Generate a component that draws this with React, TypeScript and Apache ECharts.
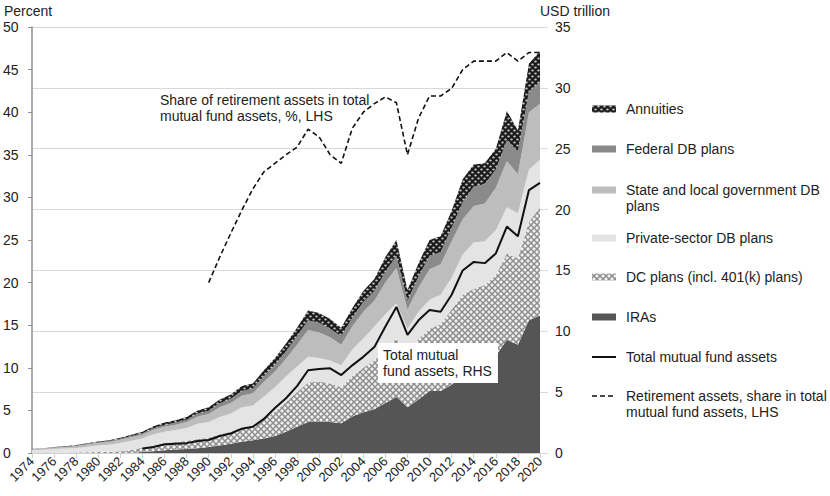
import React, { useEffect, useRef } from 'react';
import * as echarts from 'echarts';

const years = ['1974','1975','1976','1977','1978','1979','1980','1981','1982','1983','1984','1985','1986','1987','1988','1989','1990','1991','1992','1993','1994','1995','1996','1997','1998','1999','2000','2001','2002','2003','2004','2005','2006','2007','2008','2009','2010','2011','2012','2013','2014','2015','2016','2017','2018','2019','2020'];

// USD trillion (RHS), stacked from bottom
const iras = [0,0,0,0,0,0,0,0,0,0, 0.08,0.15,0.22,0.28,0.33,0.40,0.50,0.62,0.75,0.92,1.05,1.20,1.40,1.75,2.15,2.55,2.55,2.55,2.45,3.00,3.35,3.60,4.10,4.60,3.75,4.40,5.10,5.10,5.60,6.40,6.90,7.50,8.00,9.30,8.90,10.90,11.30];
const dcPlans = [0,0,0.01,0.02,0.04,0.06,0.08,0.10,0.15,0.25, 0.37,0.45,0.58,0.62,0.67,0.75,0.75,0.93,1.00,1.18,1.20,1.60,2.00,2.45,2.85,3.25,3.35,3.15,2.95,3.30,3.65,4.00,4.50,4.80,4.25,5.00,5.10,5.50,6.20,6.60,6.60,6.30,6.60,7.10,7.10,8.10,8.90];
const privateDB = [0.22,0.26,0.31,0.34,0.38,0.46,0.54,0.58,0.67,0.75, 0.75,0.95,0.95,0.98,1.05,1.25,1.30,1.40,1.50,1.65,1.65,1.85,2.00,2.10,2.10,2.10,1.90,1.90,1.80,2.20,2.40,2.80,2.80,2.90,2.20,2.20,2.40,2.40,2.60,3.30,3.80,3.60,3.70,3.80,3.70,4.30,3.90];
const stateDB = [0.08,0.09,0.11,0.12,0.14,0.17,0.20,0.22,0.26,0.30, 0.30,0.35,0.40,0.44,0.50,0.60,0.65,0.80,0.85,0.95,1.00,1.20,1.30,1.45,1.80,2.20,2.10,1.90,1.70,1.90,2.20,2.10,2.60,2.90,1.60,2.00,2.50,2.50,3.00,2.90,3.00,3.10,3.50,3.80,3.20,4.70,4.60];
const federalDB = [0.03,0.03,0.04,0.04,0.05,0.06,0.07,0.08,0.09,0.10, 0.12,0.14,0.16,0.18,0.19,0.25,0.28,0.33,0.35,0.40,0.40,0.45,0.55,0.60,0.70,0.80,0.80,0.70,0.70,0.70,0.80,0.80,0.90,1.00,0.70,0.90,1.10,1.00,1.10,1.40,1.60,1.60,1.50,1.70,1.90,1.70,1.80];
const annuities = [0.02,0.02,0.03,0.03,0.04,0.05,0.06,0.07,0.08,0.10, 0.13,0.16,0.19,0.20,0.21,0.25,0.27,0.32,0.35,0.40,0.40,0.50,0.55,0.65,0.70,0.80,0.80,0.80,0.70,0.80,0.90,1.00,1.20,1.30,0.90,1.10,1.30,1.30,1.40,1.90,1.80,1.70,1.70,2.40,1.70,2.30,2.50];
const mutualFund = [null,null,null,null,null,null,null,null,null,null, 0.37,0.50,0.72,0.77,0.81,0.98,1.07,1.40,1.60,2.00,2.16,2.80,3.70,4.50,5.50,6.80,6.90,6.96,6.40,7.20,7.90,8.70,10.40,12.00,9.70,10.90,11.75,11.60,13.00,15.00,15.70,15.60,16.40,18.60,17.80,21.60,22.20];
// Percent (LHS)
const shareRetirement = [null,null,null,null,null,null,null,null,null,null,null,null,null,null,null,null, 20.0,23.0,25.8,28.5,31.0,33.0,34.0,35.0,35.9,38.0,37.1,35.0,34.0,38.1,40.0,41.0,41.8,41.1,35.0,39.3,41.9,41.9,42.8,45.0,46.0,46.0,46.0,47.0,46.0,47.0,47.0];

const FONT = '"Liberation Sans", Arial, Helvetica, sans-serif';
const TXT = '#222';

function makeAnnuityPattern() {
  const c = document.createElement('canvas');
  c.width = 6; c.height = 6;
  const ctx = c.getContext('2d')!;
  ctx.fillStyle = '#1c1c1c';
  ctx.fillRect(0, 0, 6, 6);
  ctx.fillStyle = '#c4c4c4';
  ctx.beginPath(); ctx.ellipse(1.5, 1.5, 1.3, 1.0, 0, 0, Math.PI * 2); ctx.fill();
  ctx.beginPath(); ctx.ellipse(4.5, 4.5, 1.3, 1.0, 0, 0, Math.PI * 2); ctx.fill();
  return c;
}

function makeDcPattern() {
  const c = document.createElement('canvas');
  c.width = 6; c.height = 6;
  const ctx = c.getContext('2d')!;
  ctx.fillStyle = '#f0f0f0';
  ctx.fillRect(0, 0, 6, 6);
  ctx.strokeStyle = '#8e8e8e';
  ctx.lineWidth = 1.5;
  ctx.beginPath();
  ctx.moveTo(0, 0); ctx.lineTo(6, 6);
  ctx.moveTo(6, 0); ctx.lineTo(0, 6);
  ctx.stroke();
  return c;
}

export default function App() {
  const ref = useRef<HTMLDivElement>(null);

  useEffect(() => {
    if (!ref.current) return;
    const chart = echarts.init(ref.current, undefined, { renderer: 'svg' });
    const annPat = { image: makeAnnuityPattern(), repeat: 'repeat' };
    const dcPat = { image: makeDcPattern(), repeat: 'repeat' };

    const area = (name: string, data: number[], fill: any) => ({
      name,
      type: 'line',
      yAxisIndex: 1,
      stack: 'retirement',
      data,
      symbol: 'none',
      lineStyle: { width: 0 },
      areaStyle: { color: fill, opacity: 1 },
      z: 2,
      silent: true,
    });

    const legendItems: any[] = [];
    const lx = 592, tx = 626;
    const addSwatch = (y: number, fill: any, label: string) => {
      legendItems.push({ type: 'rect', shape: { x: lx, y: y - 3.5, width: 24, height: 7 }, style: { fill } });
      legendItems.push({ type: 'text', x: tx, y: y - 8, style: { text: label, font: `14px ${FONT}`, fill: TXT, lineHeight: 16, verticalAlign: 'top' } });
    };
    addSwatch(109, annPat, 'Annuities');
    addSwatch(149, '#8a8a8a', 'Federal DB plans');
    addSwatch(190, '#bdbdbd', 'State and local government DB\nplans');
    addSwatch(238, '#e4e4e4', 'Private-sector DB plans');
    addSwatch(277, dcPat, 'DC plans (incl. 401(k) plans)');
    addSwatch(317, '#555555', 'IRAs');
    legendItems.push({ type: 'line', shape: { x1: lx, y1: 357, x2: lx + 24, y2: 357 }, style: { stroke: '#111', lineWidth: 2 } });
    legendItems.push({ type: 'text', x: tx, y: 349, style: { text: 'Total mutual fund assets', font: `14px ${FONT}`, fill: TXT, lineHeight: 16, verticalAlign: 'top' } });
    legendItems.push({ type: 'line', shape: { x1: lx, y1: 396, x2: lx + 24, y2: 396 }, style: { stroke: '#111', lineWidth: 1.6, lineDash: [5, 3] } });
    legendItems.push({ type: 'text', x: tx, y: 388, style: { text: 'Retirement assets, share in total\nmutual fund assets, LHS', font: `14px ${FONT}`, fill: TXT, lineHeight: 16, verticalAlign: 'top' } });

    chart.setOption({
      animation: false,
      backgroundColor: '#ffffff',
      textStyle: { fontFamily: FONT, color: TXT },
      grid: { left: 32, right: 290, top: 27, bottom: 43, containLabel: false },
      xAxis: {
        type: 'category',
        data: years,
        boundaryGap: false,
        axisLine: { show: true, lineStyle: { color: '#cfcfcf', width: 1 } },
        axisTick: { show: true, interval: 1, length: 5, lineStyle: { color: '#cfcfcf' } },
        axisLabel: { interval: 1, rotate: 45, fontSize: 13, color: TXT, margin: 6, fontFamily: FONT },
        splitLine: { show: false },
      },
      yAxis: [
        {
          type: 'value',
          min: 0, max: 50, interval: 5,
          position: 'left',
          axisLine: { show: true, lineStyle: { color: '#8f8f8f', width: 1.5 } },
          axisTick: { show: true, length: 4, lineStyle: { color: '#8f8f8f' } },
          axisLabel: { color: TXT, fontSize: 14, align: 'left', margin: 29, fontFamily: FONT },
          splitLine: { show: false },
        },
        {
          type: 'value',
          min: 0, max: 35, interval: 5,
          position: 'right',
          axisLine: { show: false },
          axisTick: { show: true, length: 8, lineStyle: { color: '#d9d9d9' } },
          axisLabel: { color: TXT, fontSize: 14, align: 'left', margin: 15, fontFamily: FONT },
          splitLine: { show: true, lineStyle: { color: '#d9d9d9', width: 1 } },
        },
      ],
      series: [
        area('IRAs', iras, '#555555'),
        area('DC plans (incl. 401(k) plans)', dcPlans, dcPat),
        area('Private-sector DB plans', privateDB, '#e4e4e4'),
        area('State and local government DB plans', stateDB, '#bdbdbd'),
        area('Federal DB plans', federalDB, '#8a8a8a'),
        area('Annuities', annuities, annPat),
        {
          name: 'Total mutual fund assets',
          type: 'line',
          yAxisIndex: 1,
          data: mutualFund,
          symbol: 'none',
          lineStyle: { color: '#111', width: 2 },
          z: 5,
          silent: true,
        },
        {
          name: 'Retirement assets, share in total mutual fund assets, LHS',
          type: 'line',
          yAxisIndex: 0,
          data: shareRetirement,
          symbol: 'none',
          lineStyle: { color: '#111', width: 1.6, type: [5, 3] },
          z: 5,
          silent: true,
        },
      ],
      graphic: [
        { type: 'text', x: 4, y: 4, style: { text: 'Percent', font: `14px ${FONT}`, fill: TXT, verticalAlign: 'top' } },
        { type: 'text', x: 540, y: 4, style: { text: 'USD trillion', font: `14px ${FONT}`, fill: TXT, verticalAlign: 'top' } },
        { type: 'text', x: 160, y: 92, z: 10, style: { text: 'Share of retirement assets in total\nmutual fund assets, %, LHS', font: `14px ${FONT}`, fill: TXT, lineHeight: 16, verticalAlign: 'top' } },
        { type: 'text', x: 378, y: 343, z: 10, style: { text: 'Total mutual\nfund assets, RHS', font: `14px ${FONT}`, fill: TXT, lineHeight: 16, verticalAlign: 'top', backgroundColor: '#ffffff', padding: [4, 6, 4, 5] } },
        ...legendItems,
      ],
    });

    return () => chart.dispose();
  }, []);

  return <div ref={ref} style={{ position: 'fixed', left: 0, top: 0, width: 830, height: 496 }} />;
}
